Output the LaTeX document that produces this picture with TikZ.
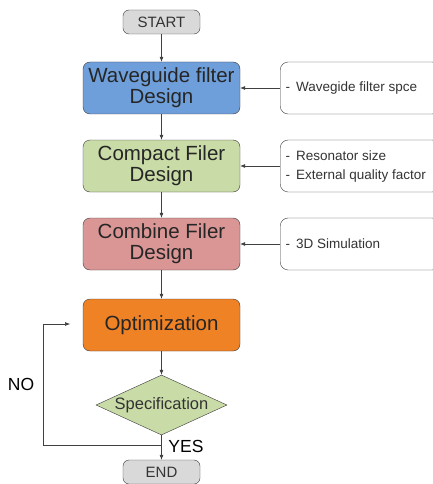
\documentclass[tikz,border=0pt]{standalone}
\usepackage{fontspec}
\setmainfont{Liberation Sans}
\usetikzlibrary{shapes.geometric,arrows.meta}
\definecolor{bord}{HTML}{3A3A3A}
\definecolor{cgray}{HTML}{D9D9D9}
\definecolor{cblue}{HTML}{6F9FDA}
\definecolor{cgreen}{HTML}{C9DBA6}
\definecolor{cred}{HTML}{D99694}
\definecolor{corange}{HTML}{F08226}
\tikzset{
  term/.style={draw=bord, fill=cgray, rounded corners=6pt, minimum width=77pt, minimum height=24pt, inner sep=0pt, font=\fontsize{15}{15}\selectfont, text=black!80},
  mainbox/.style={draw=bord, rounded corners=7pt, minimum width=157pt, minimum height=52pt, inner sep=0pt, align=center, font=\fontsize{20.5}{21}\selectfont, text=black!85},
  sidebox/.style={draw=bord, rounded corners=8pt, minimum width=160pt, minimum height=52pt, inner sep=0pt},
  sidetext/.style={anchor=west, align=left, font=\fontsize{13.5}{19}\selectfont, text=black!80},
  dec/.style={draw=bord, fill=cgreen, diamond, aspect=2.18, minimum width=131pt, minimum height=60pt, inner sep=0pt, font=\fontsize{16.5}{16.5}\selectfont, text=black!80},
  conn/.style={draw=black!75, line width=0.6pt, -{Latex[length=5pt,width=4pt]}},
  plain/.style={draw=black!75, line width=0.6pt}
}
\begin{document}
\begin{tikzpicture}[x=1pt,y=-1pt]
\useasboundingbox (0,0) rectangle (432,484);
\node[term] (start) at (161.5,22) {START};
\node[mainbox, fill=cblue] (wg) at (161.5,88) {Waveguide filter\\Design};
\node[mainbox, fill=cgreen] (cp) at (161.5,166) {Compact Filer\\Design};
\node[mainbox, fill=cred] (cb) at (161.5,244) {Combine Filer\\Design};
\node[mainbox, fill=corange] (op) at (161.5,325) {Optimization};
\node[dec] (sp) at (161.5,405) {Specification};
\node[term] (end) at (161.5,472) {END};

\node[sidebox, anchor=west] (s1) at (280,88) {};
\node[sidebox, anchor=west] (s2) at (280,166) {};
\node[sidebox, anchor=west] (s3) at (280,244) {};
\node[sidetext] (t1) at (282,88) {-\, Wavegide filter spce};
\node[sidetext] (t2) at (282,167) {-\, Resonator size\\-\, External quality factor};
\node[sidetext] (t3) at (282,244) {-\, 3D Simulation};

\draw[conn] (start) -- (wg);
\draw[conn] (wg) -- (cp);
\draw[conn] (cp) -- (cb);
\draw[conn] (cb) -- (op);
\draw[conn] (op) -- (sp);
\draw[conn] (sp) -- (end);
\draw[conn] (s1.west) -- (wg.east);
\draw[conn] (s2.west) -- (cp.east);
\draw[conn] (s3.west) -- (cb.east);

\coordinate (j) at (161.5,445);
\coordinate (nl) at (43,445);
\coordinate (nt) at (43,324);
\coordinate (na) at (70,324);
\draw[plain] (j) -- (nl) -- (nt);
\draw[conn] (nt) -- (na);

\node[font=\fontsize{17.5}{17.5}\selectfont, text=black] (no) at (21,384) {NO};
\node[font=\fontsize{17.5}{17.5}\selectfont, text=black] (yes) at (186,446) {YES};
\end{tikzpicture}
\end{document}
